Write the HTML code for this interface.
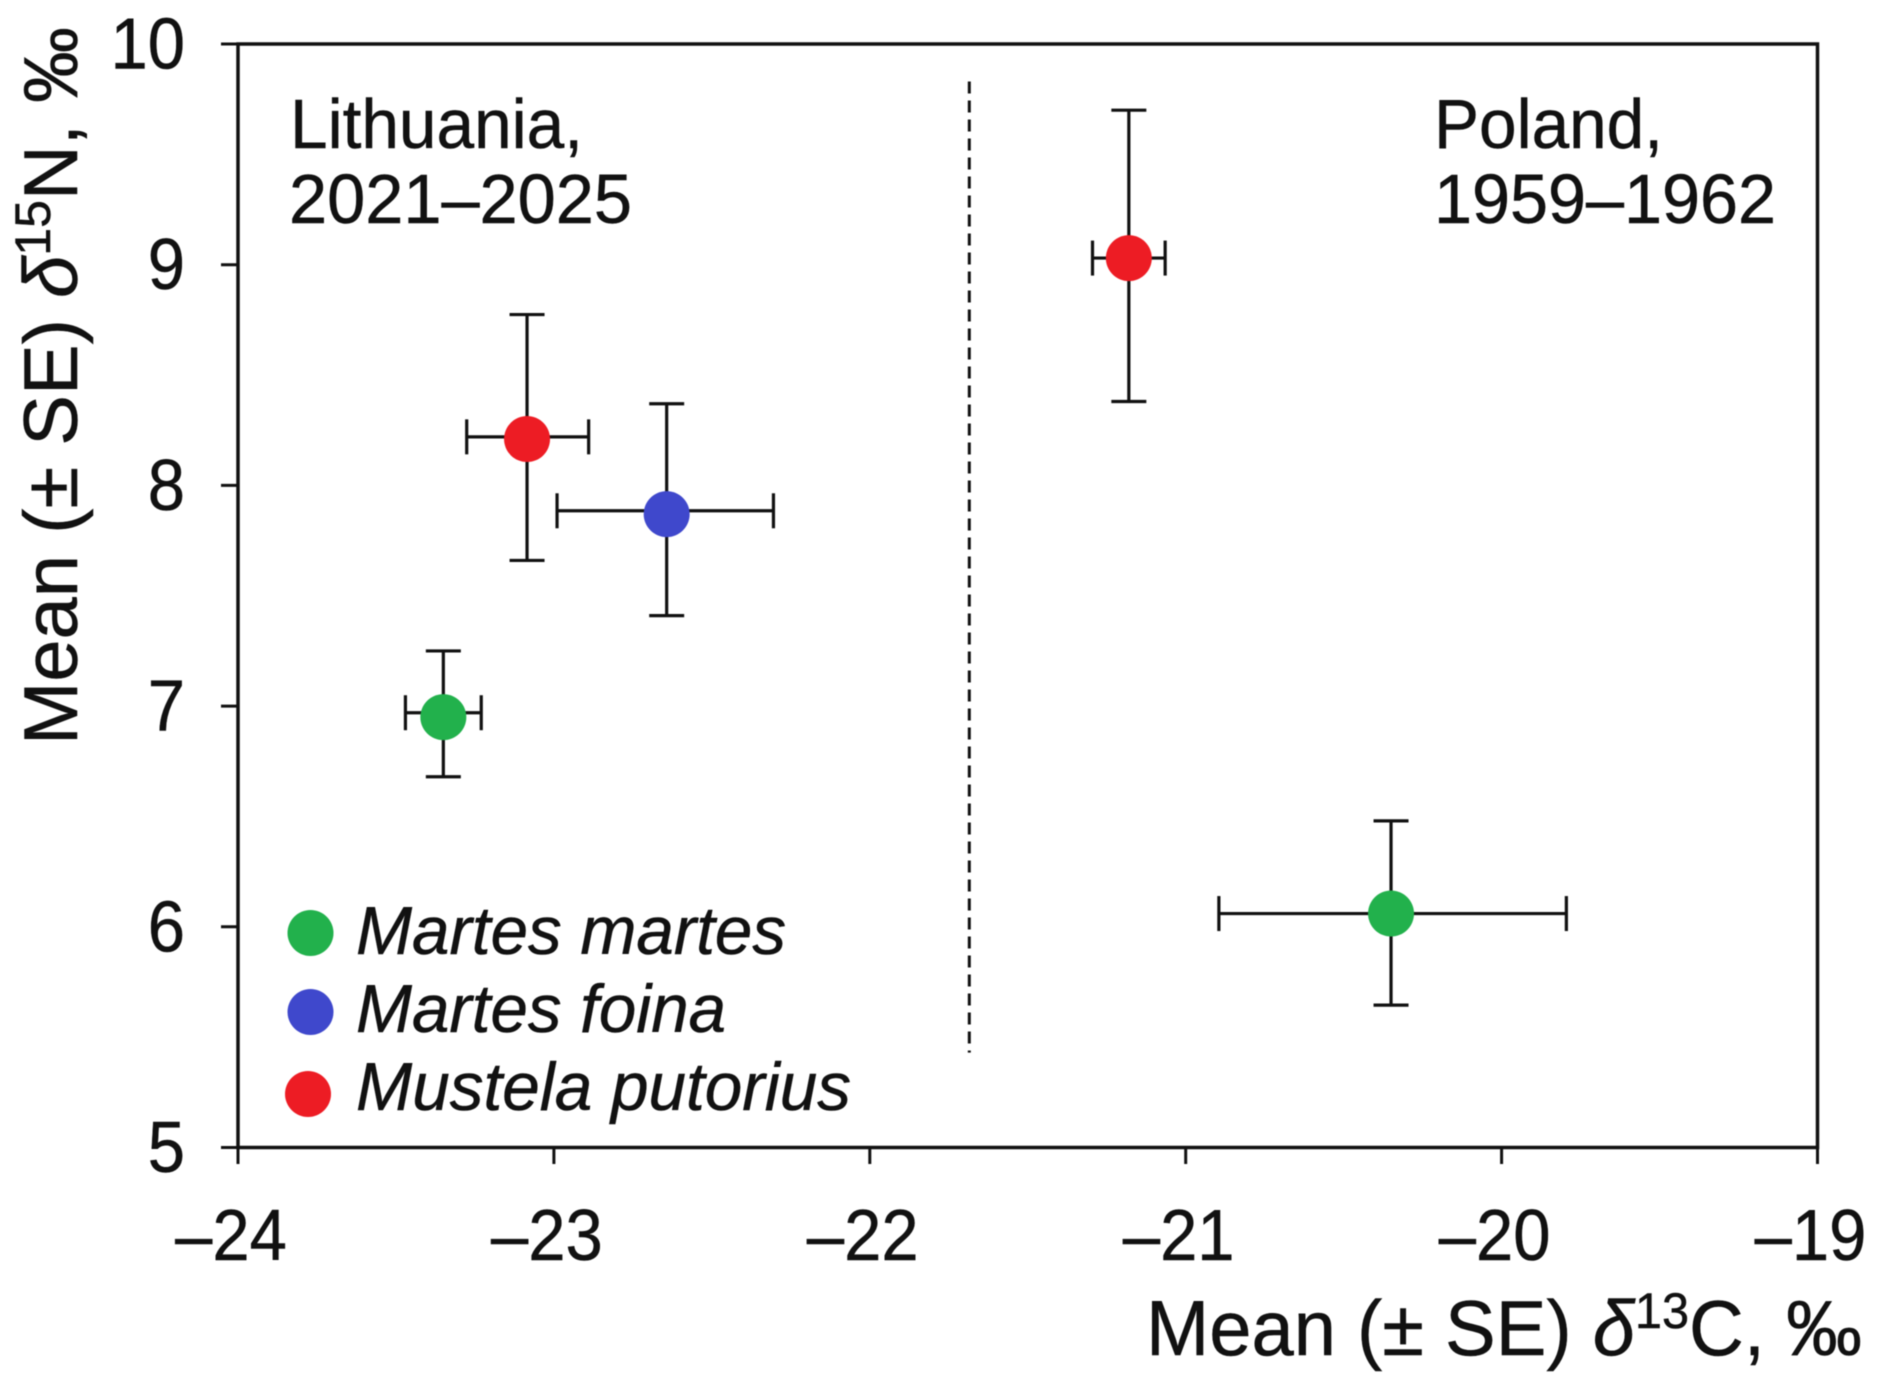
<!DOCTYPE html>
<html lang="en">
<head>
<meta charset="utf-8">
<title>Mean δ13C and δ15N of mustelids</title>
<style>
html,body{margin:0;padding:0;background:#fff;width:1880px;height:1382px;overflow:hidden}
svg{display:block;font-family:"Liberation Sans",Arial,sans-serif;fill:#111;filter:blur(0.6px)}
text{fill:#111;stroke:#111;stroke-width:0.5px}
</style>
</head>
<body>
<svg id="chart" width="1880" height="1382" viewBox="0 0 1880 1382" xmlns="http://www.w3.org/2000/svg">
  <rect x="238" y="44" width="1579.5" height="1103.5" fill="none" stroke="#111" stroke-width="3.5"/>
  <g id="ticks"></g>
  <g id="divider"></g>
  <g id="marks"></g>

  <text x="290" y="148" font-size="70" textLength="293" lengthAdjust="spacingAndGlyphs">Lithuania,</text>
  <text x="289" y="223" font-size="70" textLength="343" lengthAdjust="spacingAndGlyphs">2021–2025</text>
  <text x="1434" y="148" font-size="70" textLength="229" lengthAdjust="spacingAndGlyphs">Poland,</text>
  <text x="1434" y="223" font-size="70" textLength="342" lengthAdjust="spacingAndGlyphs">1959–1962</text>

  <g>
    <circle cx="310.5" cy="933" r="23" fill="#22B14C"/>
    <text x="356" y="954" font-size="68" font-style="italic" textLength="430" lengthAdjust="spacingAndGlyphs">Martes martes</text>
    <circle cx="310.5" cy="1012" r="23" fill="#3F48CC"/>
    <text x="356" y="1032" font-size="68" font-style="italic" textLength="370" lengthAdjust="spacingAndGlyphs">Martes foina</text>
    <circle cx="308" cy="1094" r="23" fill="#ED1C24"/>
    <text x="356" y="1110" font-size="68" font-style="italic" textLength="495" lengthAdjust="spacingAndGlyphs">Mustela putorius</text>
  </g>

  <text x="1146" y="1355" font-size="78" textLength="716" lengthAdjust="spacingAndGlyphs">Mean (± SE) <tspan font-style="italic">δ</tspan><tspan font-size="50" dy="-27">13</tspan><tspan dy="27">C, ‰</tspan></text>
  <text transform="translate(77 745) rotate(-90)" x="0" y="0" font-size="76" textLength="718" lengthAdjust="spacingAndGlyphs">Mean (± SE) <tspan font-style="italic">δ</tspan><tspan font-size="50" dy="-27">15</tspan><tspan dy="27">N, ‰</tspan></text>
</svg>
<script>
const xTickValues = [-24, -23, -22, -21, -20, -19];
const xTickLabels = ["–24", "–23", "–22", "–21", "–20", "–19"];
const yTickValues = [5, 6, 7, 8, 9, 10];
const yTickLabels = ["5", "6", "7", "8", "9", "10"];
const seriesIds = ["martes-martes-lithuania", "martes-foina-lithuania", "mustela-putorius-lithuania", "mustela-putorius-poland", "martes-martes-poland"];
const seriesColors = ["#22B14C", "#3F48CC", "#ED1C24", "#ED1C24", "#22B14C"];
const meanC = [-23.35, -22.643, -23.085, -21.18, -20.35];
const meanN = [6.95, 7.87, 8.21, 9.03, 6.06];
const cBarN = [6.97, 7.885, 8.22, 9.03, 6.06];
const cLow = [-23.47, -22.99, -23.276, -21.295, -20.895];
const cHigh = [-23.23, -22.305, -22.89, -21.065, -19.795];
const nLow = [6.68, 7.41, 7.66, 8.38, 5.645];
const nHigh = [7.25, 8.37, 8.774, 9.70, 6.48];
const dividerC = [-21.685];
const dividerN = [5.43, 9.83];

const SVGNS = "http://www.w3.org/2000/svg";
const plot = {left: 238, right: 1817.5, top: 44, bottom: 1147.5};
function xScale(v) { return plot.left + (v - (-24)) / 5 * (plot.right - plot.left); }
function yScale(v) { return plot.bottom - (v - 5) / 5 * (plot.bottom - plot.top); }
function line(x1, y1, x2, y2, width) {
  const el = document.createElementNS(SVGNS, "line");
  el.setAttribute("x1", x1);
  el.setAttribute("y1", y1);
  el.setAttribute("x2", x2);
  el.setAttribute("y2", y2);
  el.setAttribute("stroke", "#111");
  el.setAttribute("stroke-width", width);
  return el;
}
function condense(label, factor) {
  label.setAttribute("textLength", label.getComputedTextLength() * factor);
  label.setAttribute("lengthAdjust", "spacingAndGlyphs");
}
const ticksGroup = document.getElementById("ticks");
xTickValues.forEach(function (v, i) {
  const tick = line(xScale(v), plot.bottom, xScale(v), plot.bottom + 16.5, 3);
  
  
  ticksGroup.appendChild(tick);
  const label = document.createElementNS(SVGNS, "text");
  
  
  label.setAttribute("x", xScale(v) - 7);
  label.setAttribute("y", 1260);
  label.setAttribute("font-size", 72);
  label.setAttribute("text-anchor", "middle");
  label.textContent = xTickLabels[i];
  ticksGroup.appendChild(label);
  condense(label, 0.93);
});
yTickValues.forEach(function (v, i) {
  const tick = line(plot.left - 17, yScale(v), plot.left, yScale(v), 3);
  
  
  ticksGroup.appendChild(tick);
  const label = document.createElementNS(SVGNS, "text");
  
  
  label.setAttribute("x", 185);
  label.setAttribute("y", yScale(v) + 24.5);
  label.setAttribute("font-size", 72);
  label.setAttribute("text-anchor", "end");
  label.textContent = yTickLabels[i];
  ticksGroup.appendChild(label);
  condense(label, 0.93);
});
const divider = line(xScale(dividerC[0]), yScale(dividerN[1]), xScale(dividerC[0]), yScale(dividerN[0]), 3);
divider.setAttribute("stroke-dasharray", "12 7");


document.getElementById("divider").appendChild(divider);

const marksGroup = document.getElementById("marks");
const capHalf = 17.5;
const barWidth = 3.2;
seriesIds.forEach(function (id, i) {
  const cx = xScale(meanC[i]);
  const cy = yScale(meanN[i]);
  const by = yScale(cBarN[i]);
  const g = document.createElementNS(SVGNS, "g");
  
  
  g.setAttribute("id", id);
  const parts = [
    line(xScale(cLow[i]), by, xScale(cHigh[i]), by, barWidth),
    line(xScale(cLow[i]), by - capHalf, xScale(cLow[i]), by + capHalf, barWidth),
    line(xScale(cHigh[i]), by - capHalf, xScale(cHigh[i]), by + capHalf, barWidth),
    line(cx, yScale(nLow[i]), cx, yScale(nHigh[i]), barWidth),
    line(cx - capHalf, yScale(nLow[i]), cx + capHalf, yScale(nLow[i]), barWidth),
    line(cx - capHalf, yScale(nHigh[i]), cx + capHalf, yScale(nHigh[i]), barWidth)
  ];
  parts.forEach(function (p) {
    
    
    g.appendChild(p);
  });
  const dot = document.createElementNS(SVGNS, "circle");
  
  
  dot.setAttribute("cx", cx);
  dot.setAttribute("cy", cy);
  dot.setAttribute("r", 23);
  dot.setAttribute("fill", seriesColors[i]);
  g.appendChild(dot);
  marksGroup.appendChild(g);
});
</script>
</body>
</html>
